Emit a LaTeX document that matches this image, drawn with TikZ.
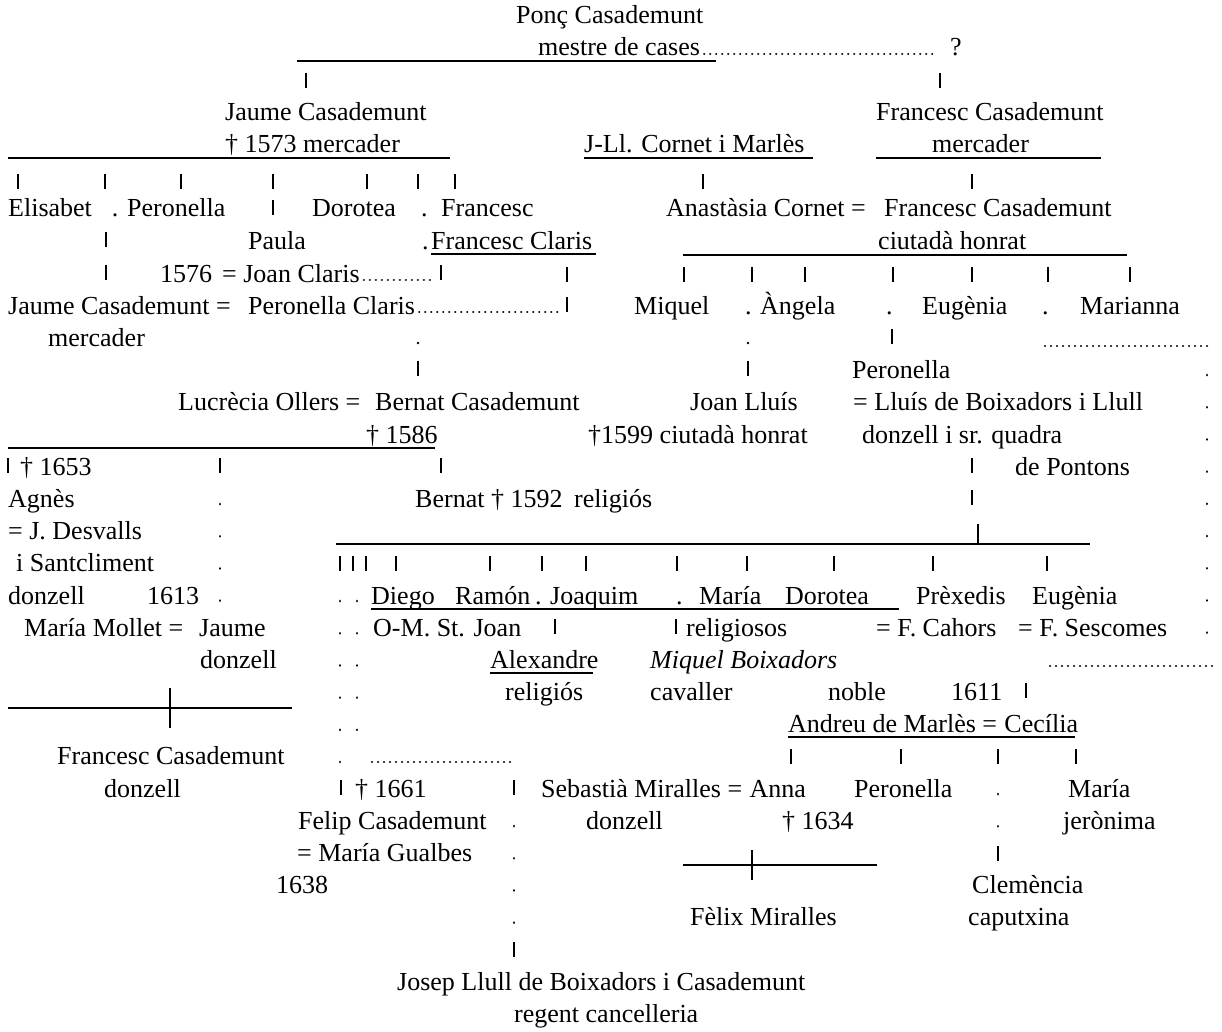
\documentclass[tikz,border=0pt]{standalone}
\usepackage{fontspec}
\setmainfont{Liberation Serif}
\usetikzlibrary{positioning,calc}

\begin{document}
\begin{tikzpicture}[x=1pt,y=-1pt,
	txt/.style={anchor=base west,inner sep=0pt,font=\fontsize{26}{30}\selectfont},
	bar/.style={line width=1.3pt},
	stem/.style={line width=1.2pt},
	leader/.style={line width=2.3pt,line cap=round,dash pattern=on 0.1pt off 5.9pt},
	dotcol/.style={line width=2.8pt,line cap=round,dash pattern=on 0.1pt off 32.1pt}]
	\useasboundingbox (0,0) rectangle (1222,1032);

	\node[txt] (Ponc) at (516,24) {Ponç Casademunt};
	\node[txt] (Mestre) at (538,56) {mestre de cases};
	\node[txt] (Query) at (950,56) {?};
	\draw[bar] (297,61) -- (716,61);
	\draw[leader] ($(Mestre.base east)+(4,-2)$) -- (937,54);
	\draw[stem] (306,73) -- (306,88);
	\draw[stem] (940,73) -- (940,88);

	\node[txt] (JaumeA) at (225,121) {Jaume Casademunt};
	\node[txt] (JaumeAd) at (225,153) {† 1573 mercader};
	\node[txt] (Cornet) at (584,153) {J-Ll. Cornet i Marlès};
	\node[txt] (FrancescA) at (876,121) {Francesc Casademunt};
	\node[txt] (FrancescAd) at (932,153) {mercader};
	\draw[bar] (8,158) -- (450,158);
	\draw[bar] (584,158) -- (813,158);
	\draw[bar] (876,158) -- (1101,158);
	\draw[stem] (18,174) -- (18,189);
	\draw[stem] (105,174) -- (105,189);
	\draw[stem] (181,174) -- (181,189);
	\draw[stem] (273,174) -- (273,189);
	\draw[stem] (367,174) -- (367,189);
	\draw[stem] (418,174) -- (418,189);
	\draw[stem] (455,174) -- (455,189);
	\draw[stem] (703,174) -- (703,189);
	\draw[stem] (972,174) -- (972,189);

	\node[txt] (Elisabet) at (8,217) {Elisabet\hspace{20pt}.};
	\node[txt] (PeronellaA) at (127,217) {Peronella};
	\node[txt] (Dorotea) at (312,217) {Dorotea};
	\node[txt] at (421,217) {.};
	\node[txt] (FrancescB) at (441,217) {Francesc};
	\node[txt] (Anastasia) at (666,217) {Anastàsia Cornet =};
	\node[txt] (FrancescC) at (884,217) {Francesc Casademunt};
	\draw[stem] (273,200) -- (273,215);

	\node[txt] (Paula) at (248,249) {Paula};
	\node[txt] at (422,249) {.};
	\node[txt] (Claris) at (431,249) {Francesc Claris};
	\node[txt] (FrancescCd) at (878,249) {ciutadà honrat};
	\draw[bar] (431,254) -- (596,254);
	\draw[bar] (683,255) -- (1127,255);
	\draw[stem] (106,232) -- (106,247);

	\node[txt] (YearA) at (160,282) {1576};
	\node[txt] (Joan) at (222,282) {= Joan Claris};
	\draw[leader] ($(Joan.base east)+(4,-2)$) -- (434,280);
	\draw[stem] (106,265) -- (106,280);
	\draw[stem] (441,265) -- (441,280);
	\draw[stem] (567,267) -- (567,282);
	\draw[stem] (684,267) -- (684,282);
	\draw[stem] (752,267) -- (752,282);
	\draw[stem] (805,267) -- (805,282);
	\draw[stem] (893,267) -- (893,282);
	\draw[stem] (972,267) -- (972,282);
	\draw[stem] (1048,267) -- (1048,282);
	\draw[stem] (1130,267) -- (1130,282);

	\node[txt] (JaumeB) at (8,314) {Jaume Casademunt =};
	\node[txt] (PeronellaB) at (248,314) {Peronella Claris};
	\draw[leader] ($(PeronellaB.base east)+(4,-2)$) -- (560,312);
	\draw[stem] (567,297) -- (567,312);
	\node[txt] (Miquel) at (634,314) {Miquel};
	\node[txt] at (745,314) {.};
	\node[txt] (Angela) at (760,314) {Àngela};
	\node[txt] at (886,314) {.};
	\node[txt] (Eugenia) at (922,314) {Eugènia};
	\node[txt] at (1042,314) {.};
	\node[txt] (Marianna) at (1080,314) {Marianna};

	\node[txt] (JaumeBd) at (48,346) {mercader};
	\fill (418,343) circle (1.4);
	\fill (748,343) circle (1.4);
	\draw[stem] (892,329) -- (892,344);
	\draw[leader] (1045,346) -- (1212,346);
	\draw[stem] (418,361) -- (418,376);
	\draw[stem] (748,361) -- (748,376);
	\node[txt] (PeronellaC) at (852,378) {Peronella};
	\draw[dotcol] (1207,375) -- (1207,634);

	\node[txt] (Lucrecia) at (178,410) {Lucrècia Ollers =};
	\node[txt] (BernatA) at (375,410) {Bernat Casademunt};
	\node[txt] (BernatAd) at (366,443) {† 1586};
	\draw[bar] (8,448) -- (435,448);
	\node[txt] (JoanLluis) at (690,410) {Joan Lluís};
	\node[txt] (JoanLluisd) at (588,443) {†1599 ciutadà honrat};
	\node[txt] (Lluis) at (853,410) {= Lluís de Boixadors i Llull};
	\node[txt] (Lluisd) at (862,443) {donzell i sr. quadra};
	\node[txt] (Pontons) at (1015,475) {de Pontons};

	\draw[stem] (8,458) -- (8,473);
	\node[txt] (AgnesD) at (20,475) {† 1653};
	\draw[stem] (220,458) -- (220,473);
	\draw[stem] (441,458) -- (441,473);
	\draw[stem] (972,458) -- (972,473);
	\draw[dotcol] (220,504) -- (220,602);
	\node[txt] (Agnes) at (8,507) {Agnès};
	\node[txt] (BernatB) at (415,507) {Bernat † 1592};
	\node[txt] (BernatBd) at (574,507) {religiós};
	\draw[stem] (972,490) -- (972,505);
	\node[txt] (Desvalls) at (8,539) {= J. Desvalls};
	\node[txt] (Desvallsb) at (16,571) {i Santcliment};
	\node[txt] (Desvallsd) at (8,604) {donzell};
	\node[txt] (YearB) at (147,604) {1613};

	\draw[bar] (336,544) -- (1090,544);
	\draw[stem] (978,524) -- (978,544);
	\draw[stem] (340,556) -- (340,571);
	\draw[stem] (353,556) -- (353,571);
	\draw[stem] (366,556) -- (366,571);
	\draw[stem] (396,556) -- (396,571);
	\draw[stem] (490,556) -- (490,571);
	\draw[stem] (542,556) -- (542,571);
	\draw[stem] (586,556) -- (586,571);
	\draw[stem] (677,556) -- (677,571);
	\draw[stem] (747,556) -- (747,571);
	\draw[stem] (834,556) -- (834,571);
	\draw[stem] (933,556) -- (933,571);
	\draw[stem] (1047,556) -- (1047,571);

	\draw[dotcol] (340,601) -- (340,762);
	\draw[dotcol] (357,601) -- (357,730);
	\node[txt] (Diego) at (371,604) {Diego};
	\node[txt] (Ramon) at (455,604) {Ramón};
	\node[txt] at (535,604) {.};
	\node[txt] (Joaquim) at (550,604) {Joaquim};
	\node[txt] at (676,604) {.};
	\node[txt] (MariaA) at (699,604) {María};
	\node[txt] (DoroteaB) at (785,604) {Dorotea};
	\draw[bar] (371,609) -- (899,609);
	\node[txt] (Prexedis) at (916,604) {Prèxedis};
	\node[txt] (EugeniaB) at (1032,604) {Eugènia};

	\node[txt] (Mollet) at (24,636) {María Mollet =};
	\node[txt] (JaumeC) at (199,636) {Jaume};
	\node[txt] (JaumeCd) at (200,668) {donzell};
	\node[txt] (Joan2) at (373,636) {O-M. St. Joan};
	\draw[stem] (555,619) -- (555,634);
	\draw[stem] (676,619) -- (676,634);
	\node[txt] (Religiosos) at (686,636) {religiosos};
	\node[txt] (Cahors) at (876,636) {= F. Cahors};
	\node[txt] (Sescomes) at (1018,636) {= F. Sescomes};

	\node[txt] (Alexandre) at (490,668) {Alexandre};
	\draw[bar] (490,673) -- (593,673);
	\node[txt] (Alexandred) at (505,700) {religiós};
	\node[txt] (MiquelB) at (650,668) {\itshape Miquel Boixadors};
	\node[txt] (MiquelBd) at (650,700) {cavaller};
	\node[txt] (Noble) at (828,700) {noble};
	\node[txt] (YearC) at (951,700) {1611};
	\draw[leader] (1050,666) -- (1212,666);
	\draw[stem] (1026,683) -- (1026,698);

	\draw[bar] (8,708) -- (292,708);
	\draw[stem] (170,688) -- (170,728);
	\node[txt] (FrancescD) at (57,764) {Francesc Casademunt};
	\node[txt] (FrancescDd) at (104,797) {donzell};

	\node[txt] (Andreu) at (788,732) {Andreu de Marlès =};
	\node[txt] (Cecilia) at ($(Andreu.base east)+(7,0)$) {Cecília};
	\draw[bar] (788,737) -- (1075,737);
	\draw[stem] (791,749) -- (791,764);
	\draw[stem] (901,749) -- (901,764);
	\draw[stem] (998,749) -- (998,764);
	\draw[stem] (1076,749) -- (1076,764);

	\draw[leader] (372,762) -- (514,762);
	\draw[stem] (341,780) -- (341,795);
	\node[txt] (FelipD) at (355,797) {† 1661};
	\node[txt] (Felip) at (298,829) {Felip Casademunt};
	\node[txt] (Gualbes) at (297,861) {= María Gualbes};
	\node[txt] (YearD) at (276,893) {1638};
	\draw[stem] (514,780) -- (514,795);
	\draw[dotcol] (514,826) -- (514,924);
	\draw[stem] (514,942) -- (514,957);

	\node[txt] (Sebastia) at (541,797) {Sebastià Miralles =};
	\node[txt] (Anna) at ($(Sebastia.base east)+(7,0)$) {Anna};
	\node[txt] (Sebastiad) at (586,829) {donzell};
	\node[txt] (Annad) at (782,829) {† 1634};
	\draw[bar] (683,865) -- (877,865);
	\draw[stem] (752,850) -- (752,880);
	\node[txt] (Felix) at (690,925) {Fèlix Miralles};

	\node[txt] (PeronellaD) at (854,797) {Peronella};
	\draw[dotcol] (998,794) -- (998,827);
	\draw[stem] (998,846) -- (998,861);
	\node[txt] (Clemencia) at (972,893) {Clemència};
	\node[txt] (Clemenciad) at (968,925) {caputxina};
	\node[txt] (MariaB) at (1068,797) {María};
	\node[txt] (MariaBd) at (1063,829) {jerònima};

	\node[txt] (Josep) at (397,990) {Josep Llull de Boixadors i Casademunt};
	\node[txt] (Josepd) at (514,1022) {regent cancelleria};
\end{tikzpicture}
\end{document}
